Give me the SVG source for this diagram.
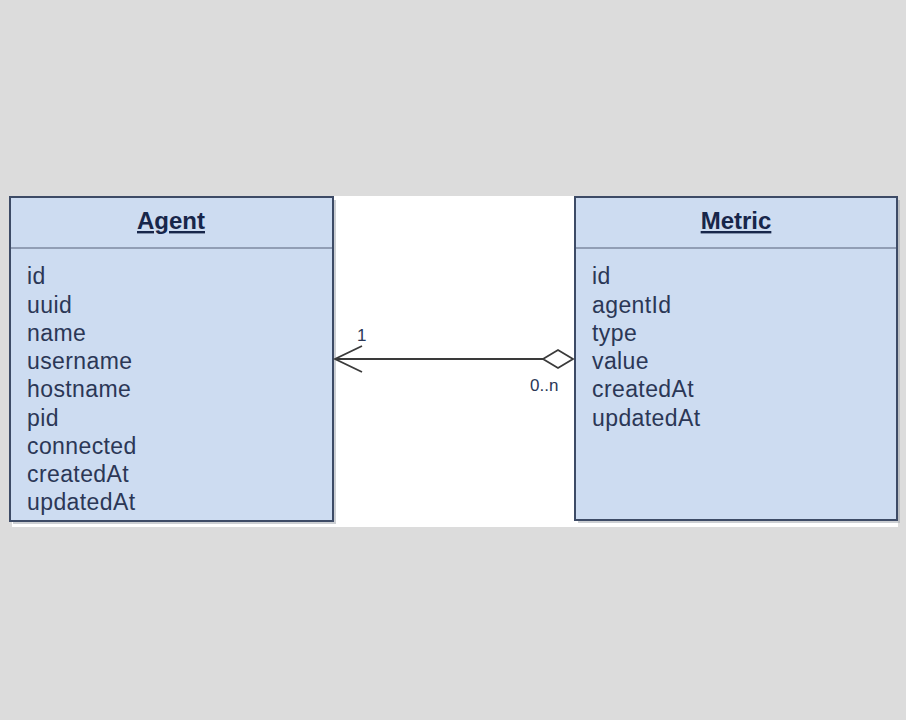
<svg xmlns="http://www.w3.org/2000/svg" width="906" height="720" viewBox="0 0 906 720">
<style>
.box{fill:#cddcf1;stroke:#3d4b66;stroke-width:2}
.div{stroke:#7d8aa0;stroke-width:1.5}
.title{font-family:"Liberation Sans",Arial,sans-serif;font-size:24px;font-weight:bold;fill:#17264a;text-anchor:middle;text-decoration:underline}
.attr{font-family:"Liberation Sans",Arial,sans-serif;font-size:23px;fill:#2b3756;letter-spacing:0.4px}
.lbl{font-family:"Liberation Sans",Arial,sans-serif;font-size:17px;fill:#2b3756}
.edge{stroke:#3a3a3a;stroke-width:1.8;fill:none}
.shadow{fill:#9aa0a8;opacity:0.5}
</style>
<rect x="0" y="0" width="906" height="720" fill="#dcdcdc"/>
<rect x="12" y="196" width="886" height="331" fill="#ffffff"/>
<g id="agent">
<rect class="shadow" x="13" y="200" width="323" height="324"/>
<rect class="box" x="10" y="197" width="323" height="324"/>
<line class="div" x1="11" y1="248" x2="332" y2="248"/>
<text class="title" x="171" y="229">Agent</text>
<text class="attr" x="27" y="284">id</text>
<text class="attr" x="27" y="313">uuid</text>
<text class="attr" x="27" y="341">name</text>
<text class="attr" x="27" y="369">username</text>
<text class="attr" x="27" y="397">hostname</text>
<text class="attr" x="27" y="426">pid</text>
<text class="attr" x="27" y="454">connected</text>
<text class="attr" x="27" y="482">createdAt</text>
<text class="attr" x="27" y="510">updatedAt</text>
</g>
<g id="metric">
<rect class="shadow" x="578" y="200" width="322" height="323"/>
<rect class="box" x="575" y="197" width="322" height="323"/>
<line class="div" x1="576" y1="248" x2="896" y2="248"/>
<text class="title" x="736" y="229">Metric</text>
<text class="attr" x="592" y="284">id</text>
<text class="attr" x="592" y="313">agentId</text>
<text class="attr" x="592" y="341">type</text>
<text class="attr" x="592" y="369">value</text>
<text class="attr" x="592" y="397">createdAt</text>
<text class="attr" x="592" y="426">updatedAt</text>
</g>
<g id="connectors">
<line class="edge" x1="335" y1="359" x2="543" y2="359"/>
<polyline class="edge" points="362,346 335,359 362,372"/>
<polygon points="543,359 558,350 573,359 558,368" fill="#ffffff" stroke="#3a3a3a" stroke-width="1.8"/>
<text class="lbl" x="357" y="341">1</text>
<text class="lbl" x="530" y="391">0..n</text>
</g>
</svg>
